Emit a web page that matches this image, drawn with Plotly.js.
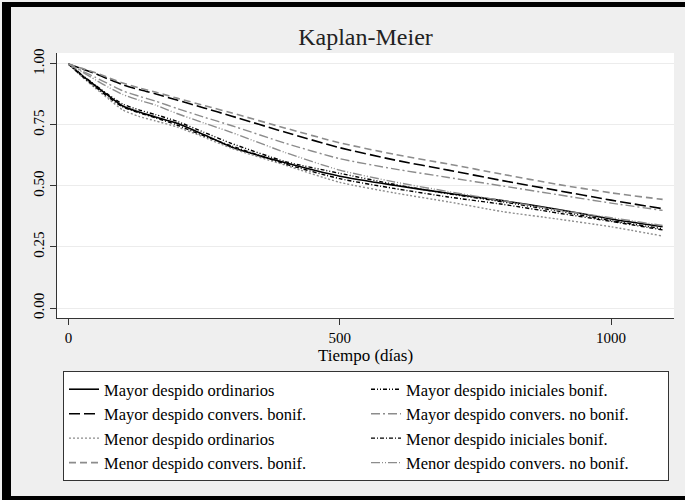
<!DOCTYPE html>
<html>
<head>
<meta charset="utf-8">
<script src="https://cdn.plot.ly/plotly-3.0.1.min.js"></script>
<style>html,body{margin:0;padding:0;background:#efefef;} #chart{width:685px;height:500px;}</style>
</head>
<body>
<div id="chart"></div>
<script>
// ---- data ----
const dias = [0, 25, 50, 75, 100, 130, 160, 200, 250, 300, 400, 500, 600, 700, 800, 900, 1000, 1095];

const mayorOrdinarios   = [1, 0.953, 0.91, 0.868, 0.828, 0.803, 0.783, 0.757, 0.71, 0.66, 0.595, 0.54, 0.503, 0.47, 0.44, 0.405, 0.365, 0.333];
const mayorIniciales    = [1, 0.955, 0.913, 0.872, 0.836, 0.812, 0.793, 0.765, 0.72, 0.675, 0.6, 0.552, 0.507, 0.468, 0.435, 0.398, 0.358, 0.325];
const mayorConvBonif    = [1, 0.98, 0.96, 0.937, 0.915, 0.895, 0.878, 0.852, 0.82, 0.787, 0.72, 0.657, 0.607, 0.565, 0.522, 0.482, 0.442, 0.407];
const mayorConvNoBonif  = [1, 0.972, 0.945, 0.917, 0.89, 0.868, 0.848, 0.818, 0.782, 0.748, 0.675, 0.612, 0.57, 0.535, 0.5, 0.465, 0.43, 0.4];
const menorOrdinarios   = [1, 0.948, 0.9, 0.855, 0.812, 0.785, 0.767, 0.742, 0.7, 0.655, 0.585, 0.515, 0.472, 0.435, 0.395, 0.365, 0.333, 0.295];
const menorIniciales    = [1, 0.95, 0.905, 0.862, 0.824, 0.8, 0.78, 0.75, 0.705, 0.665, 0.59, 0.53, 0.49, 0.455, 0.425, 0.39, 0.355, 0.32];
const menorConvBonif    = [1, 0.982, 0.964, 0.943, 0.922, 0.902, 0.885, 0.86, 0.83, 0.8, 0.737, 0.677, 0.63, 0.59, 0.548, 0.507, 0.472, 0.445];
const menorConvNoBonif  = [1, 0.968, 0.935, 0.903, 0.875, 0.852, 0.832, 0.797, 0.758, 0.72, 0.637, 0.565, 0.517, 0.477, 0.44, 0.402, 0.37, 0.338];

const nombres = [
  "Mayor despido ordinarios", "Mayor despido iniciales bonif.",
  "Mayor despido convers. bonif.", "Mayor despido convers. no bonif.",
  "Menor despido ordinarios", "Menor despido iniciales bonif.",
  "Menor despido convers. bonif.", "Menor despido convers. no bonif."
];
const series = [mayorOrdinarios, mayorIniciales, mayorConvBonif, mayorConvNoBonif,
                menorOrdinarios, menorIniciales, menorConvBonif, menorConvNoBonif];

const estilos = [
  {color: "#000000", dash: "solid", width: 1.6},
  {color: "#000000", dash: "4px,2px,1px,2px,1px,2px", width: 1.4},
  {color: "#000000", dash: "11px,4px", width: 1.6},
  {color: "#8c8c8c", dash: "9px,3px,2px,3px", width: 1.4},
  {color: "#8c8c8c", dash: "2px,2px", width: 1.4},
  {color: "#000000", dash: "4px,2px,1px,2px", width: 1.4},
  {color: "#8c8c8c", dash: "7px,4px", width: 1.6},
  {color: "#8c8c8c", dash: "9px,2px,1px,2px,1px,2px", width: 1.4}
];

const traces = series.map((s, i) => ({
  x: dias, y: s, name: nombres[i], type: "scatter", mode: "lines",
  line: {color: estilos[i].color, dash: estilos[i].dash, width: estilos[i].width, shape: "spline", smoothing: 0.6}
}));

// pixel -> paper helpers for frame shapes
const L = 57, R = 674, T = 53, B = 318;
const px = v => (v - L) / (R - L);
const py = v => (B - v) / (B - T);
const bar = (x0, y0, x1, y1) => ({type: "rect", xref: "paper", yref: "paper",
  x0: px(x0), x1: px(x1), y0: py(y1), y1: py(y0), fillcolor: "#000", line: {width: 0}, layer: "above"});

const serif = "'Liberation Serif', 'Times New Roman', Times, serif";
const layout = {
  width: 685, height: 500,
  paper_bgcolor: "#efefef", plot_bgcolor: "#ffffff",
  margin: {l: L, r: 685 - R, t: T, b: 500 - B},
  font: {family: serif, color: "#000", size: 15},
  title: {text: "Kaplan-Meier", font: {family: serif, size: 24, color: "#222"},
          x: 0.5, xref: "paper", y: 1 - 37 / 500, yref: "container", yanchor: "middle"},
  xaxis: {range: [-21, 1116], tickvals: [0, 500, 1000], ticks: "outside", ticklen: 6,
          tickcolor: "#333", showline: true, linecolor: "#333", linewidth: 1,
          showgrid: false, zeroline: false, tickfont: {family: serif, size: 15},
          title: {text: "Tiempo (días)", font: {family: serif, size: 17}, standoff: 0}},
  yaxis: {range: [-0.041, 1.045], tickvals: [0, 0.25, 0.5, 0.75, 1], tickformat: ".2f",
          tickangle: -90, ticks: "outside", ticklen: 6, tickcolor: "#333",
          showline: true, linecolor: "#333", linewidth: 1,
          showgrid: true, gridcolor: "#ececec", gridwidth: 1, zeroline: false,
          tickfont: {family: serif, size: 15}},
  legend: {orientation: "h", x: px(63), xanchor: "left", y: py(371), yanchor: "top",
           entrywidth: 257, entrywidthmode: "pixels", bgcolor: "#ffffff",
           bordercolor: "#333", borderwidth: 1, font: {family: serif, size: 16.5}, traceorder: "normal"},
  showlegend: true,
  shapes: [
    bar(2, 2, 11, 500),
    bar(2, 2, 685, 7),
    bar(2, 496, 685, 500)
  ]
};

Plotly.newPlot("chart", traces, layout, {displayModeBar: false, staticPlot: true});
</script>
</body>
</html>
